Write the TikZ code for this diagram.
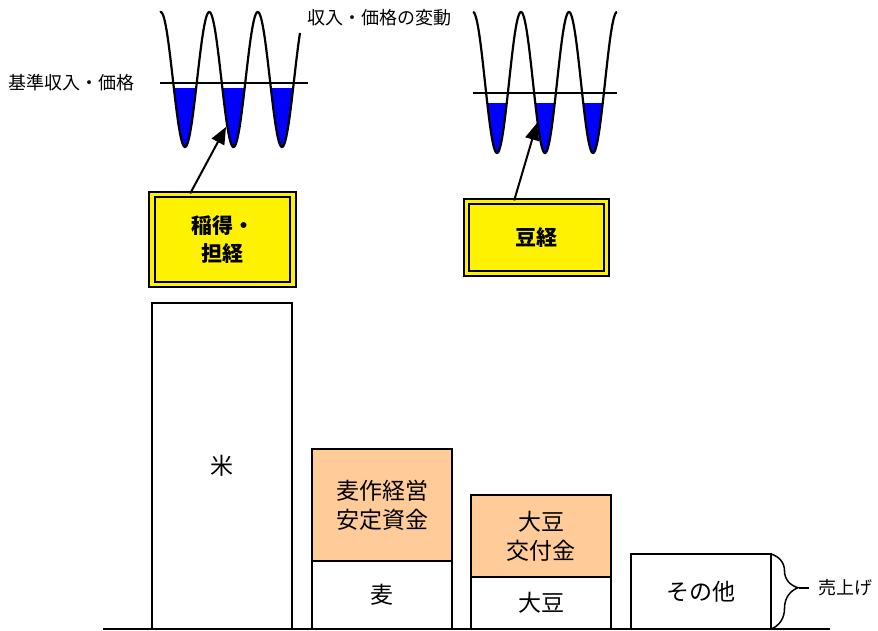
\documentclass[tikz,border=0pt]{standalone}
\usepackage{fontspec}
\setmainfont{Noto Sans CJK JP}
\usetikzlibrary{positioning,arrows.meta,decorations.pathreplacing}
\definecolor{subsidyfill}{RGB}{255,204,153}

\begin{document}
\begin{tikzpicture}[x=1pt,y=-1pt]
  % 定义样式
  \tikzset{bar/.style = {draw, line width=2pt, outer sep=0pt, minimum width=140pt, inner sep=0pt, align=center, font=\fontsize{23}{29}\selectfont}}
  \tikzset{subsidy/.style = {bar, fill=subsidyfill}}
  \tikzset{tag/.style = {draw, line width=2.2pt, double=yellow, double distance=3.5pt, fill=yellow, inner sep=0pt, font=\fontsize{21}{28}\bfseries}}
  \tikzset{wave/.style = {line width=2.2pt}}
  \tikzset{level/.style = {line width=1.8pt}}
  \tikzset{arrow/.style = {-{Triangle[length=17pt,width=14pt]}, line width=2pt}}
  \tikzset{note/.style = {font=\fontsize{18}{20}\selectfont, inner sep=0pt}}

  \useasboundingbox (0,0) rectangle (878,631);

  % 定义柱
  \node[bar, minimum height=326pt] (rice) at (222,466) {米};
  \node[subsidy, minimum height=112pt] (wheatsub) at (382,505) {麦作経営\\安定資金};
  \node[bar, minimum height=68pt, below=0pt of wheatsub] (wheat) {麦};
  \node[subsidy, minimum height=82pt] (soysub) at (541,536) {大豆\\交付金};
  \node[bar, minimum height=52pt, below=0pt of soysub] (soy) {大豆};
  \node[bar, minimum height=75pt] (other) at (701,591.5) {その他};
  \draw[line width=2pt] (103,629) -- (830,629);

  % 売上げ
  \draw[line width=1.5pt, decorate, decoration={brace, amplitude=27pt, aspect=0.45}] (other.north east) -- (other.south east) coordinate[pos=0.45, xshift=28pt] (salestip);
  \node[note, right=19pt of salestip] (sales) {売上げ};
  \draw[line width=1.5pt] (salestip) -- ++(10,0);

  % 定义标签
  \node[tag, minimum width=141pt, minimum height=90pt, align=left] (ricetag) at (222.5,239.5) {稲得・\\\hspace{0.5em}担経};
  \node[tag, minimum width=140pt, minimum height=72pt] (soytag) at (536.5,237.5) {豆経};

  % 波形
  \begin{scope}
    \clip (150,89) rectangle (320,160);
    \fill[blue] plot[domain=160:300, samples=200] (\x, {79.5+67.5*cos((\x-185)*7.4227)}) -- (300,84) -- (160,84) -- cycle;
  \end{scope}
  \draw[wave] plot[domain=160:300, samples=200] (\x, {79.5+67.5*cos((\x-185)*7.4227)});
  \draw[level] (160,83) -- (308,83);
  \begin{scope}
    \clip (465,104) rectangle (625,170);
    \fill[blue] plot[domain=473:617, samples=200] (\x, {82.5+70.5*cos((\x-497)*7.5)}) -- (617,98) -- (473,98) -- cycle;
  \end{scope}
  \draw[wave] plot[domain=473:617, samples=200] (\x, {82.5+70.5*cos((\x-497)*7.5)});
  \draw[level] (473,93) -- (617,93);

  \node[note] (base) at (72,83) {基準収入・価格};
  \node[note] (change) at (379,18) {収入・価格の変動};

  % 定义箭头
  \coordinate (ricetip) at (226,127);
  \coordinate (soytip) at (537,123);
  \draw[arrow] (ricetag.125) -- (ricetip);
  \draw[arrow] (soytag.121) -- (soytip);
\end{tikzpicture}
\end{document}
